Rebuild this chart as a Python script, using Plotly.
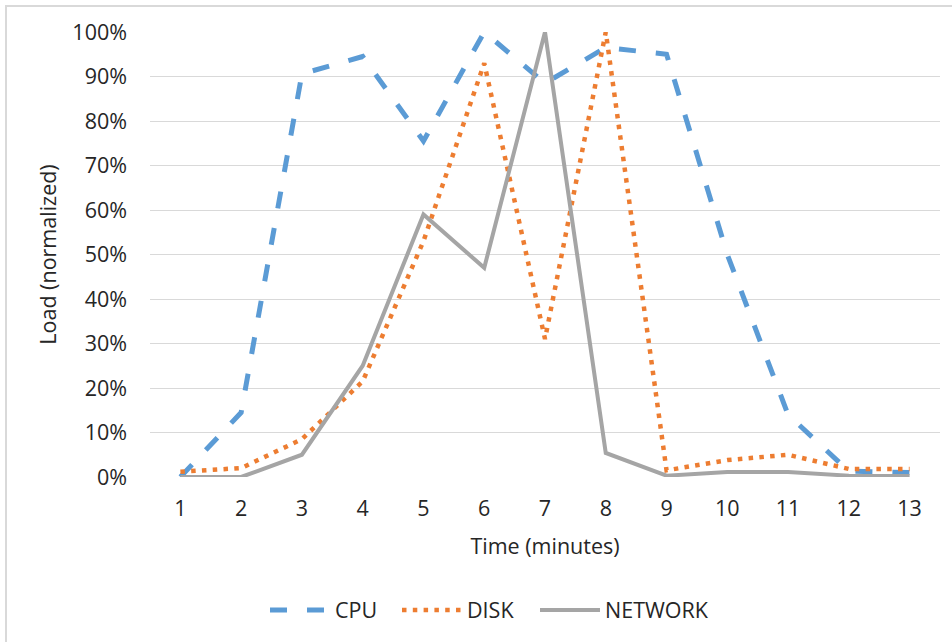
import plotly.graph_objects as go

minutes = [1, 2, 3, 4, 5, 6, 7, 8, 9, 10, 11, 12, 13]
cpu = [0.0, 0.145, 0.906, 0.945, 0.755, 1.0, 0.885, 0.965, 0.95, 0.50, 0.14, 0.013, 0.01]
disk = [0.012, 0.02, 0.085, 0.215, 0.53, 0.93, 0.31, 1.0, 0.015, 0.038, 0.05, 0.018, 0.018]
network = [0.0, 0.0, 0.05, 0.25, 0.59, 0.47, 1.0, 0.054, 0.003, 0.011, 0.011, 0.003, 0.002]
y_ticks = [0, 0.1, 0.2, 0.3, 0.4, 0.5, 0.6, 0.7, 0.8, 0.9, 1.0]
y_labels = ["0%", "10%", "20%", "30%", "40%", "50%", "60%", "70%", "80%", "90%", "100%"]

FONT = "Open Sans, sans-serif"
TXT = "#262626"
FS = 21.5

fig = go.Figure()
fig.add_trace(go.Scatter(x=minutes, y=cpu, name="CPU", mode="lines", legend="legend",
                         line=dict(color="#5B9BD5", width=5, dash="17px,20px")))
fig.add_trace(go.Scatter(x=minutes, y=disk, name="DISK", mode="lines", legend="legend2",
                         line=dict(color="#ED7D31", width=4.5, dash="4.5px,6.3px")))
fig.add_trace(go.Scatter(x=minutes, y=network, name="NETWORK", mode="lines", legend="legend3",
                         line=dict(color="#A5A5A5", width=4)))

L, R, T, B = 150, 12, 32, 165
W, H = 952, 642
pw, ph = W - L - R, H - T - B

def px(xpix):
    return (xpix - L) / pw

def py(ypix):
    return (H - B - ypix) / ph

def leg(xpix):
    return dict(orientation="h", x=px(xpix), xanchor="left", y=py(610), yanchor="middle",
                font=dict(size=FS, color=TXT), itemwidth=60, bgcolor="rgba(0,0,0,0)")

fig.update_layout(
    width=W, height=H,
    margin=dict(l=L, r=R, t=T, b=B),
    paper_bgcolor="white", plot_bgcolor="white",
    font=dict(family=FONT, size=FS, color=TXT),
    showlegend=True,
    legend=leg(265), legend2=leg(397), legend3=leg(535),
    xaxis=dict(range=[0.5, 13.5], tickmode="array", tickvals=minutes,
               ticktext=[str(m) for m in minutes], showgrid=False, zeroline=False,
               showline=False, ticks="", ticklabelstandoff=16,
               title=dict(text="Time (minutes)", standoff=18, font=dict(size=FS))),
    yaxis=dict(range=[0, 1], tickmode="array", tickvals=y_ticks, ticktext=y_labels,
               showgrid=True, gridcolor="#D9D9D9", gridwidth=1.3, zeroline=False,
               showline=False, ticks="", ticklabelstandoff=22,
               title=dict(text="Load (normalized)", standoff=9, font=dict(size=FS))),
    shapes=[dict(type="rect", xref="paper", yref="paper",
                 x0=px(6), x1=px(990), y0=py(680), y1=py(6),
                 line=dict(color="#D9D9D9", width=2), fillcolor="rgba(0,0,0,0)", layer="below")],
)

fig.write_html("out.html", config={"displayModeBar": False},
               post_script="document.body.style.margin='0';")
